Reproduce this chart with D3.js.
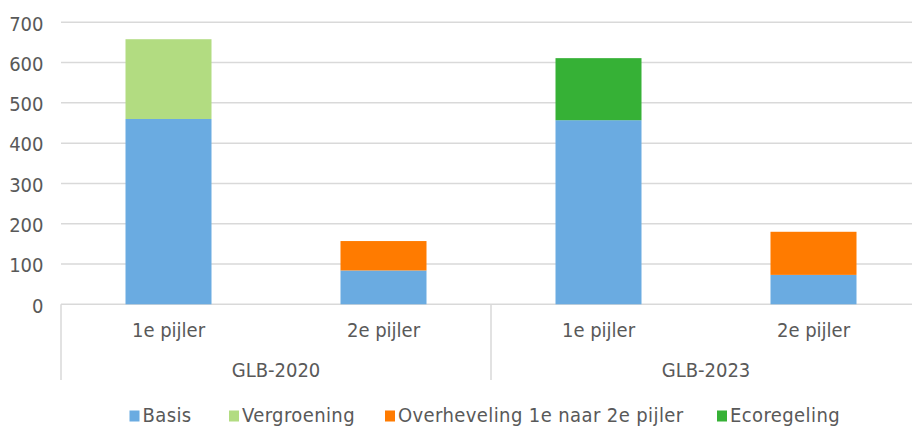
<!DOCTYPE html>
<html><head><meta charset="utf-8">
<script src="https://cdn.jsdelivr.net/npm/d3@7"></script>
<style>body{margin:0;background:#fff;} svg{display:block;} text{font-family:"DejaVu Sans Condensed","DejaVu Sans",sans-serif;fill:#595959;}</style>
</head><body><svg id="c" width="912" height="427"></svg>
<script>
const groups = ["GLB-2020","GLB-2023"];
const pillars = ["1e pijler","2e pijler"];
const seriesNames = ["Basis","Vergroening","Overheveling 1e naar 2e pijler","Ecoregeling"];
const seriesColors = ["#6aabe1","#b2dc81","#ff7b00","#36b136"];
// values per category (GLB-2020 1e, GLB-2020 2e, GLB-2023 1e, GLB-2023 2e)
const basis        = [460, 84, 457, 73];
const vergroening  = [198, 0, 0, 0];
const overheveling = [0, 73, 0, 107];
const ecoregeling  = [0, 0, 154, 0];
const yTicks = [0,100,200,300,400,500,600,700];

const cats = [];
groups.forEach(g => pillars.forEach(p => cats.push(g+"|"+p)));
const rows = cats.map((c,i)=>({cat:c, Basis:basis[i], Vergroening:vergroening[i], "Overheveling 1e naar 2e pijler":overheveling[i], Ecoregeling:ecoregeling[i]}));

const svg = d3.select("#c");
const x0 = 61, x1 = 921, yTop = 22.3, yBot = 304.3;
const FS = 20;
const x = d3.scaleBand().domain(cats).range([x0,x1]).paddingInner(0.6).paddingOuter(0.3);
const y = d3.scaleLinear().domain([0,700]).range([yBot,yTop]);

// gridlines
svg.append("g").selectAll("line").data(yTicks).join("line")
  .attr("x1",x0).attr("x2",912).attr("y1",d=>y(d)).attr("y2",d=>y(d))
  .attr("stroke","#d9d9d9").attr("stroke-width",1.5);

// y labels
const yAxis = d3.axisLeft(y).tickValues(yTicks).tickSize(0).tickPadding(0);
const ya = svg.append("g").attr("transform","translate(43.5,0)").call(yAxis);
ya.select(".domain").remove();
ya.selectAll("text").attr("font-size",FS).attr("dy",null).attr("y",7.7)
  .style("fill","#595959").attr("font-family","DejaVu Sans Condensed, DejaVu Sans, sans-serif");

// bars
const stack = d3.stack().keys(seriesNames)(rows);
const color = d3.scaleOrdinal().domain(seriesNames).range(seriesColors);
svg.append("g").selectAll("g").data(stack).join("g").attr("fill",d=>color(d.key))
  .selectAll("rect").data(d=>d.filter(s=>s[1]-s[0]>0)).join("rect")
  .attr("x",d=>x(d.data.cat)).attr("width",x.bandwidth())
  .attr("y",d=>y(d[1])).attr("height",d=>y(d[0])-y(d[1]));

// category axis separators
const gw = (x1-x0)/groups.length;
const sep = svg.append("g").attr("stroke","#d9d9d9").attr("stroke-width",1.5);
d3.range(groups.length+1).forEach(i=>{
  const xx = x0+gw*i;
  sep.append("line").attr("x1",xx).attr("x2",xx).attr("y1",yBot).attr("y2",380);
});

// pillar labels
svg.append("g").selectAll("text").data(cats).join("text")
  .attr("x",d=>x(d)+x.bandwidth()/2).attr("y",336.5).attr("text-anchor","middle")
  .attr("font-size",FS).text(d=>d.split("|")[1]);
// group labels
svg.append("g").selectAll("text").data(groups).join("text")
  .attr("x",(d,i)=>x0+gw*i+gw/2).attr("y",376.5).attr("text-anchor","middle")
  .attr("font-size",FS).text(d=>d);

// legend
const legendX = [129.5, 229, 385, 717];
const lg = svg.append("g").selectAll("g").data(seriesNames).join("g")
  .attr("transform",(d,i)=>`translate(${legendX[i]},0)`);
lg.append("rect").attr("x",0).attr("y",410.5).attr("width",10).attr("height",11).attr("fill",d=>color(d));
lg.append("text").attr("x",13).attr("y",421.5).attr("font-size",FS).attr("letter-spacing",0.4).text(d=>d);
</script></body></html>
